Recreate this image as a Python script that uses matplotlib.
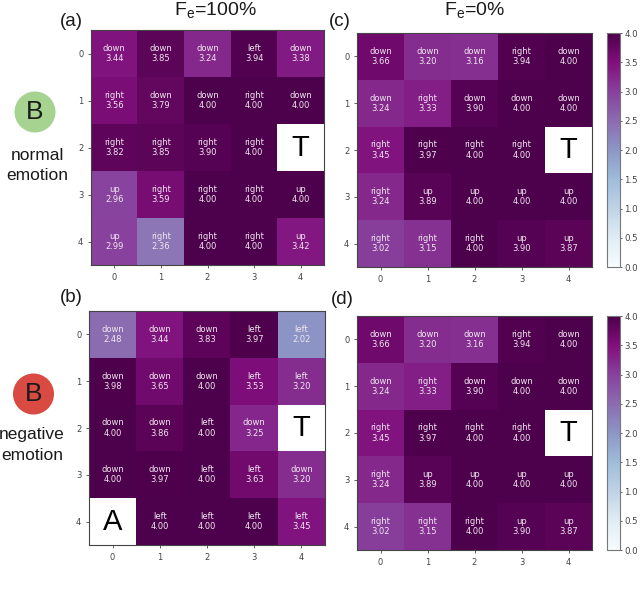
import numpy as np
import matplotlib
matplotlib.use('Agg')
import matplotlib.pyplot as plt
from matplotlib.patches import Circle

plt.rcParams['mathtext.default'] = 'regular'

W, H = 640, 597
nan = np.nan

# values per panel, nan = empty cell
values_a = [[3.44, 3.85, 3.24, 3.94, 3.38],
            [3.56, 3.79, 4.00, 4.00, 4.00],
            [3.82, 3.85, 3.90, 4.00, nan],
            [2.96, 3.59, 4.00, 4.00, 4.00],
            [2.99, 2.36, 4.00, 4.00, 3.42]]
actions_a = [['down', 'down', 'down', 'left', 'down'],
             ['right', 'down', 'down', 'right', 'down'],
             ['right', 'right', 'right', 'right', ''],
             ['up', 'right', 'right', 'right', 'up'],
             ['up', 'right', 'right', 'right', 'up']]

values_b = [[2.48, 3.44, 3.83, 3.97, 2.02],
            [3.98, 3.65, 4.00, 3.53, 3.20],
            [4.00, 3.86, 4.00, 3.25, nan],
            [4.00, 3.97, 4.00, 3.63, 3.20],
            [nan, 4.00, 4.00, 4.00, 3.45]]
actions_b = [['down', 'down', 'down', 'left', 'left'],
             ['down', 'down', 'down', 'left', 'left'],
             ['down', 'down', 'left', 'down', ''],
             ['down', 'down', 'left', 'left', 'down'],
             ['', 'left', 'left', 'left', 'left']]

# (c) and (d) show the same numbers
values_c = [[3.66, 3.20, 3.16, 3.94, 4.00],
            [3.24, 3.33, 3.90, 4.00, 4.00],
            [3.45, 3.97, 4.00, 4.00, nan],
            [3.24, 3.89, 4.00, 4.00, 4.00],
            [3.02, 3.15, 4.00, 3.90, 3.87]]
actions_c = [['down', 'down', 'down', 'right', 'down'],
             ['down', 'right', 'down', 'down', 'down'],
             ['right', 'right', 'right', 'right', ''],
             ['right', 'up', 'up', 'up', 'up'],
             ['right', 'right', 'right', 'up', 'up']]

ticks = [0, 1, 2, 3, 4]
cbar_ticks = [0.0, 0.5, 1.0, 1.5, 2.0, 2.5, 3.0, 3.5, 4.0]
GREY = '#444444'


def px_axes(fig, x0, y0, x1, y1):
    return fig.add_axes([x0 / W, 1 - y1 / H, (x1 - x0) / W, (y1 - y0) / H])


def draw_grid(fig, box, values, actions, letters):
    ax = px_axes(fig, *box)
    arr = np.array(values)
    im = ax.imshow(arr, cmap='BuPu', vmin=0, vmax=4, aspect='auto')
    for r in range(arr.shape[0]):
        for c in range(arr.shape[1]):
            if not np.isnan(arr[r, c]):
                ax.text(c, r, f'{actions[r][c]}\n{arr[r, c]:.2f}', color='#f0e6f0',
                        ha='center', va='center', fontsize=6, linespacing=1.15)
    for (r, c), letter in letters.items():
        ax.text(c, r, letter, color='black', ha='center', va='center',
                fontsize=21, family='Liberation Sans')
    ax.set_xticks(ticks)
    ax.set_yticks(ticks)
    ax.tick_params(labelsize=6, length=2.5, width=0.6, colors=GREY, pad=3)
    for s in ax.spines.values():
        s.set_color(GREY)
        s.set_linewidth(0.8)
    return im


def draw_cbar(fig, box, im):
    cax = px_axes(fig, *box)
    cb = fig.colorbar(im, cax=cax)
    cb.set_ticks(cbar_ticks)
    cb.ax.tick_params(labelsize=6.2, length=1.5, width=0.6, colors=GREY, pad=1.5)
    cb.outline.set_edgecolor('#777777')
    cb.outline.set_linewidth(0.8)


def label(fig, x, y, s, size):
    fig.text(x / W, 1 - y / H, s, ha='center', va='center', fontsize=size,
             family='Liberation Sans', color='#1a1a1a')


fig = plt.figure(figsize=(W / 100, H / 100), dpi=100)

draw_grid(fig, (91, 30, 324, 265), values_a, actions_a, {(2, 4): 'T'})
im_c = draw_grid(fig, (357, 33, 592, 267), values_c, actions_c, {(2, 4): 'T'})
draw_grid(fig, (89, 311, 325, 545), values_b, actions_b, {(2, 4): 'T', (4, 0): 'A'})
im_d = draw_grid(fig, (357, 316, 592, 550), values_c, actions_c, {(2, 4): 'T'})

draw_cbar(fig, (607, 33, 620, 267), im_c)
draw_cbar(fig, (607, 316, 620, 550), im_d)

# overlay in pixel coordinates for the circles
over = fig.add_axes([0, 0, 1, 1], zorder=-1)
over.set_xlim(0, W)
over.set_ylim(H, 0)
over.axis('off')
over.add_patch(Circle((35, 112), 20.5, color='#a6d38f', lw=0))
over.add_patch(Circle((33.5, 394), 20.5, color='#d94a42', lw=0))

label(fig, 35, 112, 'B', 19)
label(fig, 33.5, 394, 'B', 19)
label(fig, 37, 155, 'normal', 12.5)
label(fig, 37, 175, 'emotion', 12.5)
label(fig, 32, 435, 'negative', 12.5)
label(fig, 32, 455, 'emotion', 12.5)

label(fig, 215, 10, 'F$_e$=100%', 14)
label(fig, 475, 10, 'F$_e$=0%', 14)
label(fig, 71, 21, '(a)', 13.5)
label(fig, 340, 21, '(c)', 13.5)
label(fig, 71, 297, '(b)', 13.5)
label(fig, 342, 300, '(d)', 13.5)

fig.savefig('out.png', dpi=100)
